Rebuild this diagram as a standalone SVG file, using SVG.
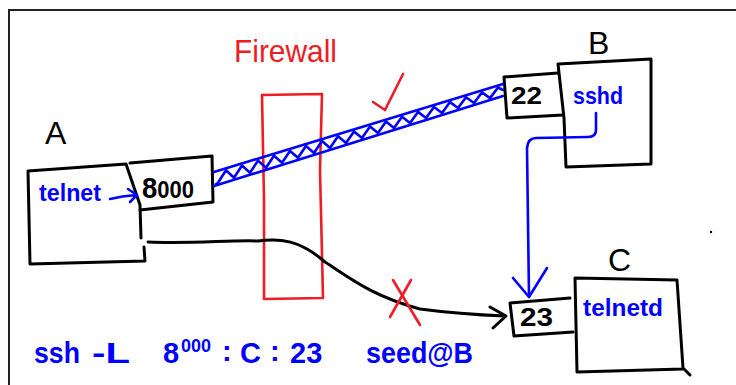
<svg xmlns="http://www.w3.org/2000/svg" width="736" height="385" viewBox="0 0 736 385">
  <style>
    .ink { fill: none; stroke: #000; stroke-width: 3; stroke-linecap: round; stroke-linejoin: round; }
    .blue { fill: none; stroke: #0000ff; stroke-width: 2.6; stroke-linecap: round; stroke-linejoin: round; }
    .red { fill: none; stroke: #ee1c24; stroke-width: 2.6; stroke-linecap: round; stroke-linejoin: round; }
    .hand { font-family: "Liberation Sans", "DejaVu Sans", sans-serif; }
    .lbl { fill: #000; font-size: 32px; }
    .port { fill: #000; font-weight: bold; }
    .proc { fill: #0000ff; font-size: 24px; font-weight: bold; }
    .cmd { fill: #0000ff; font-size: 29px; font-weight: bold; }
  </style>
  <rect width="736" height="385" fill="#fff"/>

  <!-- frame -->
  <path d="M9,385 L9,10 L736,10" fill="none" stroke="#222" stroke-width="2"/>

  <!-- Firewall -->
  <g id="firewall">
    <text class="hand" x="234" y="62" font-size="32" fill="#ee1c24" textLength="103" lengthAdjust="spacingAndGlyphs">Firewall</text>
    <path class="red" d="M262,95 L322,94 L320,170 L323,298 L264,299 L264,200 Z"/>
  </g>

  <!-- Host A -->
  <g id="host-a">
    <text class="hand lbl" x="45" y="144">A</text>
    <path class="ink" d="M28,171 L126,164 L140,205 L141,238 M144,247 L145,261 L30,264 L28,171"/>
    <text class="hand proc" x="39" y="201" textLength="62" lengthAdjust="spacingAndGlyphs">telnet</text>
    <path class="blue" d="M110,199 Q122,196 136,195 M128,189 L137,195 L130,202"/>
  </g>

  <!-- port 8000 on A -->
  <g id="port-8000">
    <path class="ink" d="M130,163 L212,156 L213,202 L140,210"/>
    <text class="hand port" x="142" y="198" font-size="30" textLength="52" lengthAdjust="spacingAndGlyphs">8<tspan font-size="24">000</tspan></text>
  </g>

  <!-- Host B -->
  <g id="host-b">
    <text class="hand lbl" x="588" y="54">B</text>
    <path class="ink" d="M558,64 L651,59 L651,164 L566,167 L564,118 L558,64"/>
    <text class="hand proc" x="573" y="104" textLength="50" lengthAdjust="spacingAndGlyphs">sshd</text>
  </g>

  <!-- port 22 on B -->
  <g id="port-22">
    <path class="ink" d="M558,73 L504,77 L507,118 L563,115"/>
    <text class="hand port" x="511" y="104" font-size="24" textLength="31" lengthAdjust="spacingAndGlyphs">22</text>
  </g>

  <!-- Host C -->
  <g id="host-c">
    <text class="hand lbl" x="608" y="271">C</text>
    <path class="ink" d="M575,278 L677,280 L683,368 L690,375 M683,369 L577,372 L575,278"/>
    <text class="hand proc" x="583" y="316" textLength="80" lengthAdjust="spacingAndGlyphs">telnetd</text>
  </g>

  <!-- port 23 on C -->
  <g id="port-23">
    <path class="ink" d="M570,298 L510,303 L514,336 L573,332"/>
    <text class="hand port" x="520" y="326" font-size="25" textLength="33" lengthAdjust="spacingAndGlyphs">23</text>
  </g>

  <g id="connectors">
    <!-- SSH tunnel from 8000 to 22 -->
    <path class="blue" stroke-width="3" d="M214,172 L503,84"/>
    <path class="blue" stroke-width="3" d="M214,186 L503,96"/>
    <path class="blue" stroke-width="2.4" d="M216,184 L218,182.8 L226,170.3 L234,177.8 L242,165.5 L250,172.8 L258,160.6 L266,167.8 L274,155.7 L282,162.8 L290,150.9 L298,157.8 L306,146 L314,152.9 L322,141.1 L330,147.9 L338,136.2 L346,142.9 L354,131.4 L362,137.9 L370,126.5 L378,132.9 L386,121.6 L394,127.9 L402,116.8 L410,123 L418,111.9 L426,118 L434,107 L442,113 L450,102.1 L458,108 L466,97.3 L474,103 L482,92.4 L490,98.1 L498,87.5 L503,90"/>
    <!-- check mark: tunnel passes -->
    <path class="red" d="M373,102 L385,110 L403,74"/>

    <!-- forwarded leg: sshd to port 23 -->
    <path class="blue" d="M596,113 L596,130 Q596,137 588,137 L536,138 Q528,138 527,148 L529,296"/>
    <path class="blue" d="M513,278 L529,297 L547,268"/>

    <!-- direct telnet: blocked by the firewall -->
    <path class="ink" stroke-width="2.6" d="M148,242 C190,244 230,240 258,241 C280,238 300,240 325,262 C350,278 372,296 420,309 C450,313 480,315 505,316"/>
    <path class="ink" stroke-width="2.6" d="M490,307 L506,316 L493,328"/>
    <!-- red cross: connection refused -->
    <path class="red" d="M393,280 L420,325 M411,280 L390,317"/>
  </g>

  <!-- command line -->
  <text class="hand cmd" x="34" y="363"><tspan textLength="46" lengthAdjust="spacingAndGlyphs">ssh</tspan><tspan x="92" textLength="38" lengthAdjust="spacingAndGlyphs">-L</tspan><tspan x="163">8</tspan><tspan x="181" y="352" font-size="18">000</tspan><tspan x="222" y="361">:</tspan><tspan x="240" y="363">C</tspan><tspan x="270" y="361">:</tspan><tspan x="290" y="363">23</tspan><tspan x="366" textLength="107" lengthAdjust="spacingAndGlyphs">seed@B</tspan></text>

  <!-- stray dot -->
  <circle cx="711" cy="232" r="1.2" fill="#000"/>
</svg>
